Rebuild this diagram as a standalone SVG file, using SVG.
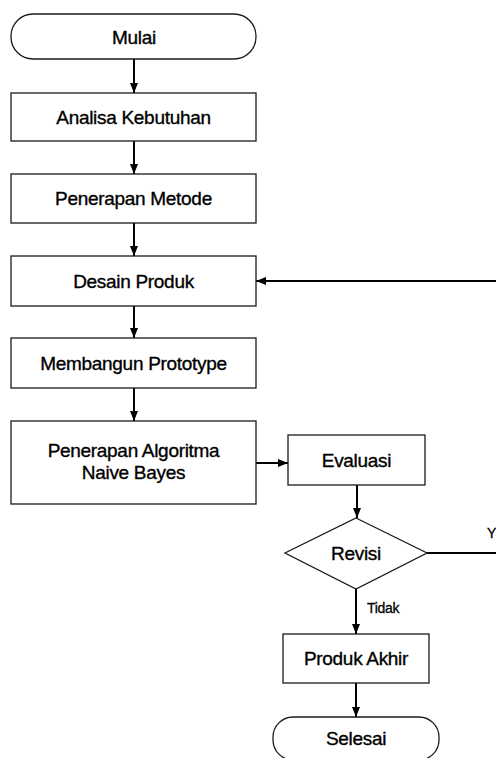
<svg xmlns="http://www.w3.org/2000/svg" width="496" height="758" viewBox="0 0 496 758">
<style>
.box{fill:#fff;stroke:#1a1a1a;stroke-width:1.3}
.t{font-family:"Liberation Sans",Arial,sans-serif;font-size:19px;fill:#000;stroke:#000;stroke-width:0.35;text-anchor:middle;letter-spacing:-0.3px}
.s{font-family:"Liberation Sans",Arial,sans-serif;font-size:14px;fill:#000;stroke:#000;stroke-width:0.3;letter-spacing:-0.3px}
.c{fill:none;stroke:#000;stroke-width:2}
</style>
<defs>
<marker id="ah" markerUnits="userSpaceOnUse" markerWidth="10" markerHeight="8" refX="10" refY="4" orient="auto">
<path d="M0,0 L10,4 L0,8 Z" fill="#000"/>
</marker>
</defs>
<rect width="496" height="758" fill="#fff"/>
<g id="connectors">
<line class="c" x1="134" y1="59" x2="134" y2="93" marker-end="url(#ah)"/>
<line class="c" x1="134" y1="141" x2="134" y2="174" marker-end="url(#ah)"/>
<line class="c" x1="134" y1="223" x2="134" y2="256" marker-end="url(#ah)"/>
<line class="c" x1="134" y1="306" x2="134" y2="338" marker-end="url(#ah)"/>
<line class="c" x1="134" y1="388" x2="134" y2="421" marker-end="url(#ah)"/>
<line class="c" x1="256" y1="463" x2="288" y2="463" marker-end="url(#ah)"/>
<line class="c" x1="357" y1="485" x2="357" y2="518" marker-end="url(#ah)"/>
<line class="c" x1="356" y1="589" x2="356" y2="634" marker-end="url(#ah)"/>
<line class="c" x1="356" y1="683" x2="356" y2="717" marker-end="url(#ah)"/>
<path class="c" d="M427,553 L502,553 L502,281 L256,281" marker-end="url(#ah)"/>
<text class="s" x="487" y="538">Y</text>
<text class="s" x="367" y="613">Tidak</text>
</g>
<g id="mulai"><rect class="box" x="11" y="14" width="245" height="45" rx="22" ry="22"/><text class="t" x="134" y="43.5">Mulai</text></g>
<g id="analisa"><rect class="box" x="11" y="93" width="245" height="48"/><text class="t" x="133.5" y="124">Analisa Kebutuhan</text></g>
<g id="metode"><rect class="box" x="11" y="174" width="245" height="49"/><text class="t" x="133.5" y="205">Penerapan Metode</text></g>
<g id="desain"><rect class="box" x="11" y="256" width="245" height="50"/><text class="t" x="133.5" y="288">Desain Produk</text></g>
<g id="prototype"><rect class="box" x="11" y="338" width="245" height="50"/><text class="t" x="133.5" y="370">Membangun Prototype</text></g>
<g id="algoritma"><rect class="box" x="11" y="421" width="245" height="83"/><text class="t" x="133.5" y="457">Penerapan Algoritma</text><text class="t" x="133.5" y="478.5">Naive Bayes</text></g>
<g id="evaluasi"><rect class="box" x="288" y="435" width="137" height="50"/><text class="t" x="356.5" y="467">Evaluasi</text></g>
<g id="revisi"><polygon class="box" points="356,518 427,553 356,589 285,553"/><text class="t" x="356" y="560">Revisi</text></g>
<g id="produk"><rect class="box" x="283" y="634" width="146" height="49"/><text class="t" x="356" y="665">Produk Akhir</text></g>
<g id="selesai"><rect class="box" x="273" y="717" width="166" height="43" rx="20" ry="20"/><text class="t" x="356" y="745">Selesai</text></g>
</svg>
